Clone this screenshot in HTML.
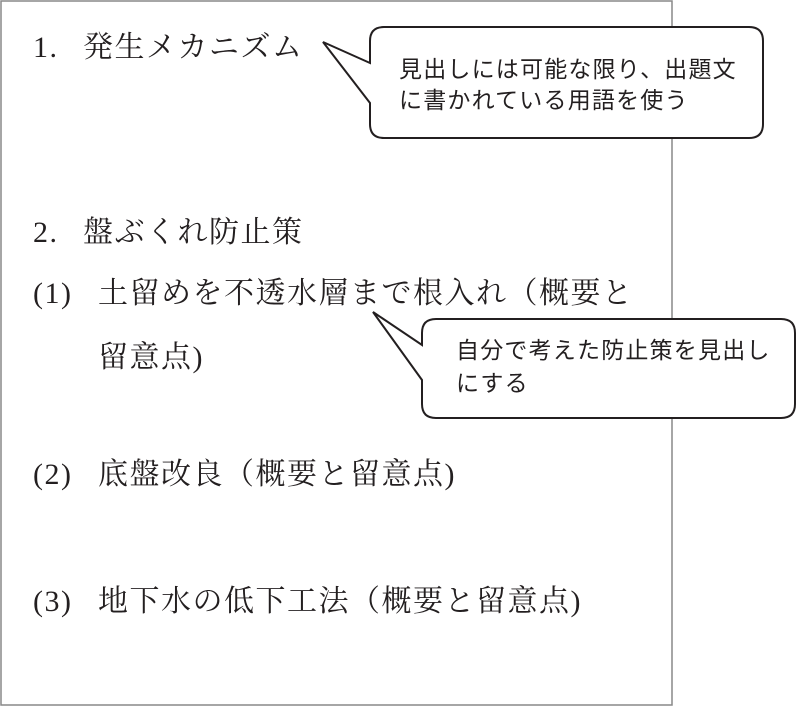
<!DOCTYPE html>
<html><head><meta charset="utf-8"><style>
body{margin:0;width:800px;height:707px;background:#fff;position:relative;overflow:hidden}
.t{position:absolute;font-family:"Liberation Serif","Noto Serif CJK SC",serif;font-size:30px;letter-spacing:1.5px;color:#231f20;white-space:nowrap;line-height:1}
.c{position:absolute;font-family:"Liberation Sans","Noto Sans CJK JP",sans-serif;font-size:23px;letter-spacing:1.2px;color:#231f20;white-space:nowrap;line-height:1}
</style></head><body>
<svg width="800" height="707" style="position:absolute;left:0;top:0">
<rect x="1" y="1" width="671" height="704" fill="none" stroke="#888" stroke-width="1.5"/>
<path d="M384,27 H749 Q763,27 763,41 V124 Q763,138 749,138 H384 Q370,138 370,124 V103 L323,42 L370,63 V41 Q370,27 384,27 Z" fill="#fff" stroke="#231f20" stroke-width="2"/>
<path d="M436,319 H781 Q795,319 795,333 V404 Q795,418 781,418 H436 Q422,418 422,404 V380 L373,312 L422,345 V333 Q422,319 436,319 Z" fill="#fff" stroke="#231f20" stroke-width="2"/>
</svg>
<div class="t" style="left:33px;top:33px">1.</div><div class="t" style="left:83px;top:33px">発生メカニズム</div>
<div class="t" style="left:33px;top:218px">2.</div><div class="t" style="left:83px;top:218px">盤ぶくれ防止策</div>
<div class="t" style="left:33px;top:279px">(1)</div><div class="t" style="left:98px;top:279px">土留めを不透水層まで根入れ（概要と</div>
<div class="t" style="left:98px;top:343px">留意点)</div>
<div class="t" style="left:33px;top:460px">(2)</div><div class="t" style="left:98px;top:460px">底盤改良（概要と留意点)</div>
<div class="t" style="left:33px;top:587px">(3)</div><div class="t" style="left:98px;top:587px">地下水の低下工法（概要と留意点)</div>
<div class="c" style="left:399px;top:58px">見出しには可能な限り、出題文</div>
<div class="c" style="left:399px;top:89px">に書かれている用語を使う</div>
<div class="c" style="left:456px;top:339px">自分で考えた防止策を見出し</div>
<div class="c" style="left:456px;top:372px">にする</div>
</body></html>
